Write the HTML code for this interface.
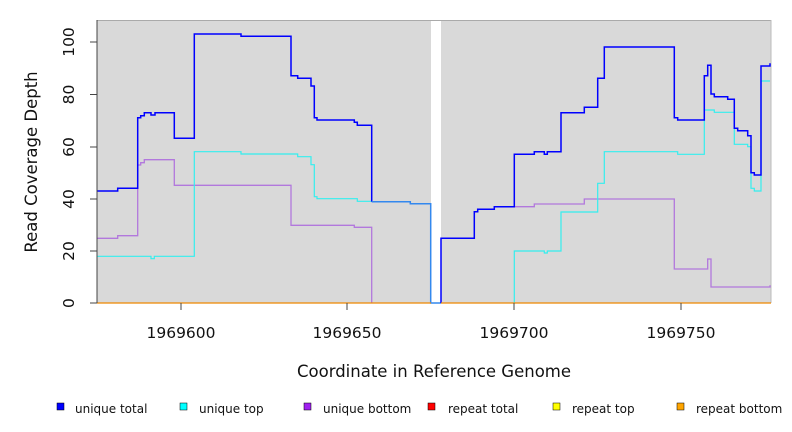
<!DOCTYPE html>
<html><head><style>body{margin:0;background:#fff}svg{display:block;font-family:"DejaVu Sans","Liberation Sans",sans-serif}</style></head><body>
<svg width="792" height="432" viewBox="0 0 792 432">
<rect x="97" y="20" width="674" height="283" fill="#d9d9d9"/>
<rect x="431" y="20" width="10" height="283" fill="#fff"/>
<line x1="97" y1="20.5" x2="771" y2="20.5" stroke="#aaa"/>
<line x1="771" y1="20" x2="771" y2="303" stroke="#bbb"/>
<g fill="none" stroke-linejoin="miter">
<polyline stroke="#aa66dd" stroke-width="1.3" stroke-opacity="0.85" points="97,238.3 117.7,238.3 117.7,235.7 137.7,235.7 137.7,165 140.7,165 140.7,162.7 144.3,162.7 144.3,159.7 174.3,159.7 174.3,185.3 291,185.3 291,225.3 354.3,225.3 354.3,227.3 371.7,227.3 371.7,303"/>
<polyline stroke="#33eeee" stroke-width="1.2" points="97,256.3 151,256.3 151,258.7 154.3,258.7 154.3,256.3 194.3,256.3 194.3,151.7 241,151.7 241,154 297.7,154 297.7,156.7 311,156.7 311,164.7 314.3,164.7 314.3,196.7 317,196.7 317,198.7 357.3,198.7 357.3,201.3 371.7,201.3"/>
<polyline stroke="#aa66dd" stroke-width="1.3" stroke-opacity="0.85" points="494.3,206.7 534.3,206.7 534.3,204 584.3,204 584.3,199 674.3,199 674.3,269 707.7,269 707.7,259 711,259 711,287 770,287 770,285.3"/>
<polyline stroke="#33eeee" stroke-width="1.2" points="514.3,303 514.3,251 544.3,251 544.3,253 547.3,253 547.3,251 561,251 561,212 597.7,212 597.7,183.3 604.3,183.3 604.3,151.7 677.7,151.7 677.7,154.3 704.3,154.3 704.3,110 714.3,110 714.3,112.3 734.3,112.3 734.3,144.3 747.7,144.3 747.7,146.7 751,146.7 751,188.3 754.3,188.3 754.3,191 761,191 761,81 770,81"/>
<polyline stroke="#0000ff" stroke-width="1.5" points="97,191 117.7,191 117.7,188.3 137.7,188.3 137.7,117.7 140.7,117.7 140.7,115.7 144.3,115.7 144.3,112.7 151,112.7 151,115 155,115 155,112.7 174.3,112.7 174.3,138.3 194.3,138.3 194.3,34 241,34 241,36.3 291,36.3 291,75.7 297.7,75.7 297.7,78.3 311,78.3 311,86 314.3,86 314.3,117.7 317,117.7 317,120 354.3,120 354.3,122.3 357.3,122.3 357.3,125.3 371.7,125.3 371.7,201.7"/>
<polyline stroke="#3388ee" stroke-width="1.5" points="371.7,201.7 410.3,201.7 410.3,203.7 430.7,203.7 430.7,303 441,303"/>
<polyline stroke="#0000ff" stroke-width="1.5" points="441,303 441,238.3 474.3,238.3 474.3,211.7 477.7,211.7 477.7,209.3 494.3,209.3 494.3,206.7 514.3,206.7 514.3,154.3 534.3,154.3 534.3,151.7 544.3,151.7 544.3,154.3 547.3,154.3 547.3,151.7 561,151.7 561,112.7 584.3,112.7 584.3,107.3 597.7,107.3 597.7,78.3 604.3,78.3 604.3,47 674.3,47 674.3,117.7 677.7,117.7 677.7,120 704.3,120 704.3,75.7 707.7,75.7 707.7,65.3 711,65.3 711,94 714.3,94 714.3,96.7 727.7,96.7 727.7,99.3 734.3,99.3 734.3,128.3 737.7,128.3 737.7,130.7 747.7,130.7 747.7,135.7 751,135.7 751,172.7 754.3,172.7 754.3,175 761,175 761,66 770,66 770,63.3"/>
</g>
<line x1="97" y1="303" x2="431" y2="303" stroke="#ee8800" stroke-width="1.2"/>
<line x1="441" y1="303" x2="771" y2="303" stroke="#ee8800" stroke-width="1.2"/>
<g stroke="#444" stroke-width="1">
<line x1="97" y1="20" x2="97" y2="303"/>
<line x1="90" y1="303" x2="97" y2="303"/><line x1="90" y1="251" x2="97" y2="251"/><line x1="90" y1="199" x2="97" y2="199"/><line x1="90" y1="147" x2="97" y2="147"/><line x1="90" y1="94.5" x2="97" y2="94.5"/><line x1="90" y1="42" x2="97" y2="42"/>
<line x1="181" y1="303" x2="181" y2="310"/><line x1="347" y1="303" x2="347" y2="310"/><line x1="514" y1="303" x2="514" y2="310"/><line x1="681" y1="303" x2="681" y2="310"/>
</g>
<g font-size="15.5" fill="#111" text-anchor="middle">
<text transform="translate(74,303) rotate(-90)">0</text>
<text transform="translate(74,251) rotate(-90)">20</text>
<text transform="translate(74,199) rotate(-90)">40</text>
<text transform="translate(74,147) rotate(-90)">60</text>
<text transform="translate(74,94.5) rotate(-90)">80</text>
<text transform="translate(74,42) rotate(-90)">100</text>
<text x="181" y="338">1969600</text><text x="347" y="338">1969650</text><text x="514" y="338">1969700</text><text x="681" y="338">1969750</text>
</g>
<g font-size="16.5" fill="#111" text-anchor="middle">
<text x="434" y="377">Coordinate in Reference Genome</text>
<text transform="translate(37,162) rotate(-90)">Read Coverage Depth</text>
</g>
<g font-size="12" fill="#111">
<rect x="57" y="403" width="7" height="7" fill="#0000ff" stroke="#000" stroke-width="0.5"/><text x="75" y="413">unique total</text>
<rect x="180" y="403" width="7" height="7" fill="#00ffff" stroke="#000" stroke-width="0.5"/><text x="199" y="413">unique top</text>
<rect x="304" y="403" width="7" height="7" fill="#a020f0" stroke="#000" stroke-width="0.5"/><text x="323" y="413">unique bottom</text>
<rect x="428" y="403" width="7" height="7" fill="#ff0000" stroke="#000" stroke-width="0.5"/><text x="448" y="413">repeat total</text>
<rect x="553" y="403" width="7" height="7" fill="#ffff00" stroke="#000" stroke-width="0.5"/><text x="572" y="413">repeat top</text>
<rect x="677" y="403" width="7" height="7" fill="#ffa500" stroke="#000" stroke-width="0.5"/><text x="696" y="413">repeat bottom</text>
</g>
</svg>
</body></html>
